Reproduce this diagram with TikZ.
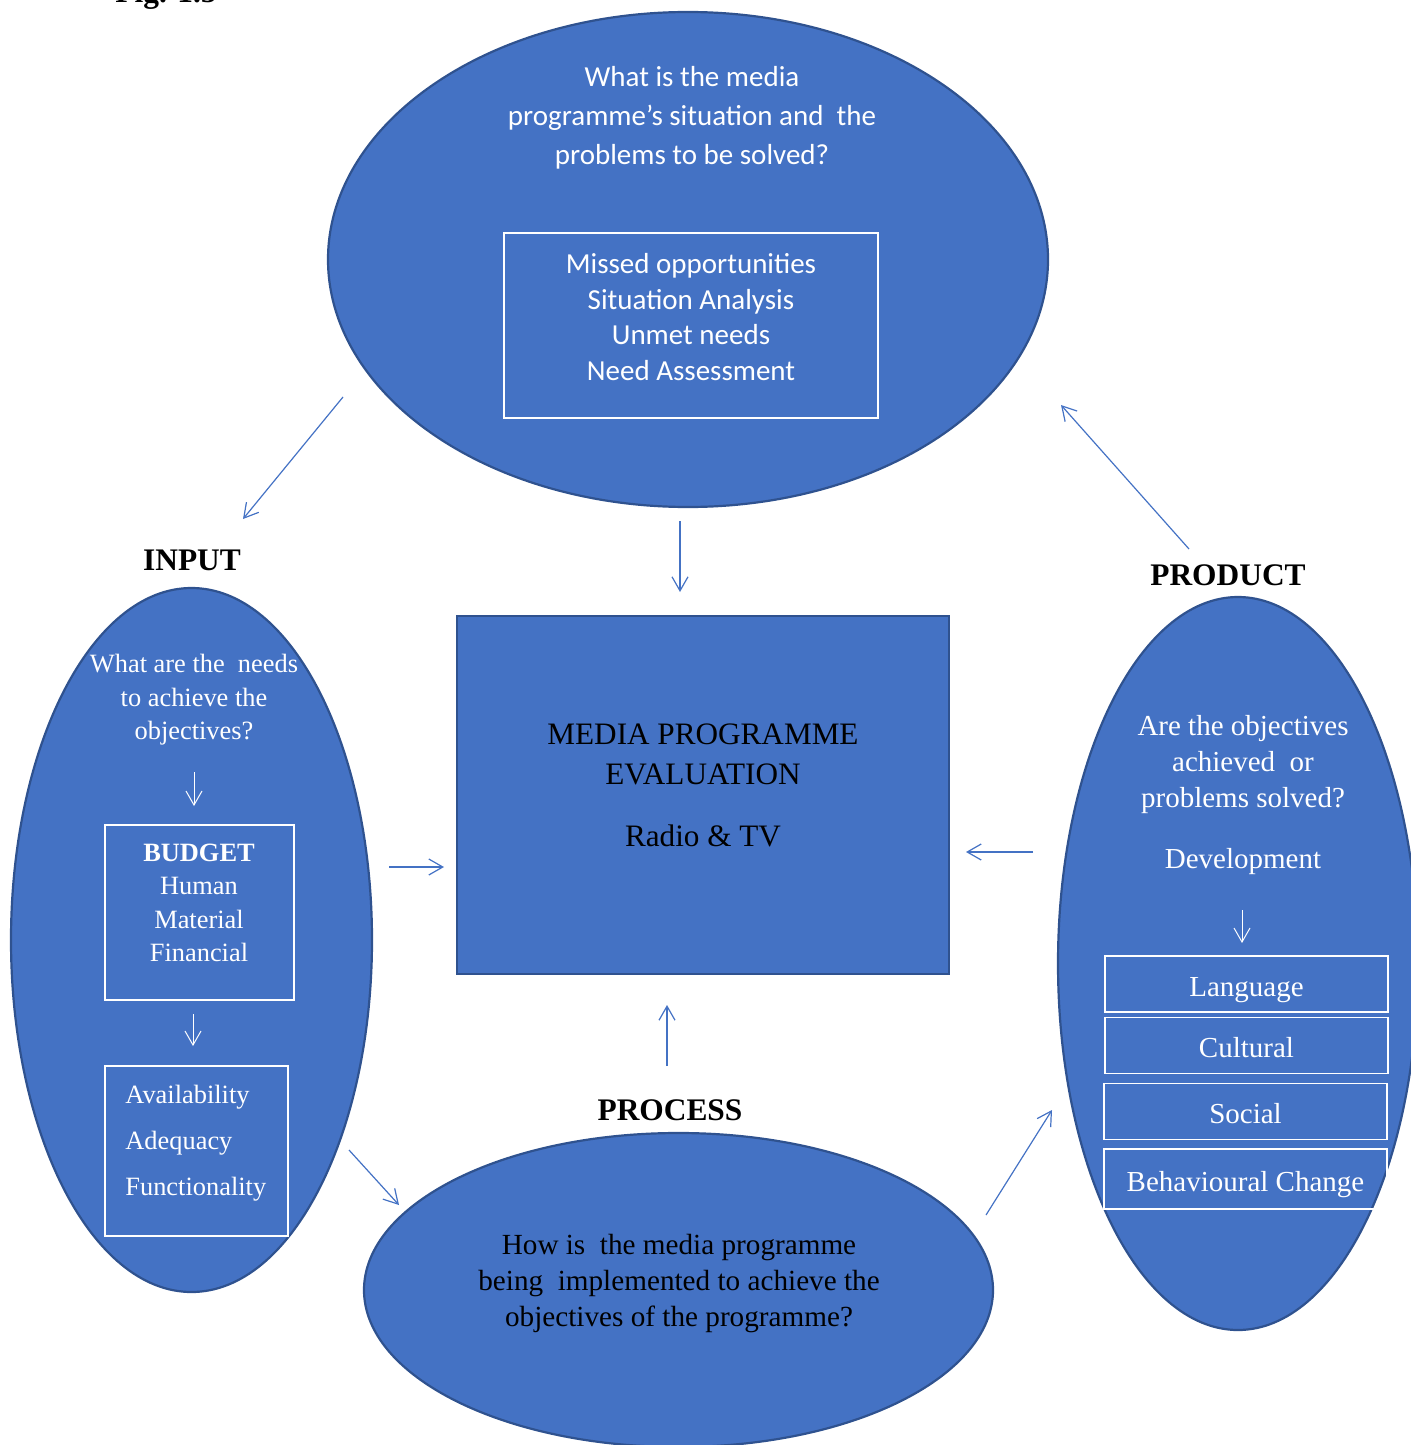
\documentclass[tikz,border=0pt]{standalone}
\usepackage{fontspec}
\setmainfont{Liberation Serif}
\newfontfamily\calibri{Carlito}
\usetikzlibrary{shapes.geometric,arrows.meta}
\definecolor{mblue}{HTML}{4472C4}
\definecolor{mdark}{HTML}{2F528F}

\begin{document}
\begin{tikzpicture}[x=0.5pt,y=-0.5pt,
    blob/.style={ellipse,draw=mdark,line width=1.1pt,fill=mblue,inner sep=0pt},
    wbox/.style={draw=white,line width=0.6pt,inner sep=0pt},
    wtext/.style={text=white,align=center,inner sep=0pt,font=\fontsize{13.2}{16.7}\selectfont},
    pbox/.style={wbox,minimum width=141.5pt,minimum height=28pt,text height=12pt,text depth=0pt,text=white,font=\fontsize{14.5}{17}\selectfont},
    stage/.style={inner sep=0pt,font=\bfseries\fontsize{15.7}{19}\selectfont},
    arr/.style={mblue,line width=0.6pt,-{Straight Barb[length=7pt,width=8pt]}},
    warr/.style={white,line width=0.5pt,-{Straight Barb[length=7pt,width=8pt]}}]
    \useasboundingbox (0,0) rectangle (1410,1445);

    % Ueberschrift (oben abgeschnitten)
    \node[stage,anchor=base west] (fig) at (115,3) {Fig. 1.5};

    % obere Ellipse:
    \node[blob,minimum width=360pt,minimum height=247.5pt] (sit) at (688,259.5) {};
    \node[text=white,align=center,inner sep=0pt,font=\calibri\fontsize{14.5}{19.5}\selectfont] (sitq) at (692,118) {What is the media\\programme’s situation and~ the\\problems to be solved?};
    \node[wbox,minimum width=187pt,minimum height=92.5pt] (sitbox) at (691,325.5) {};
    \node[text=white,align=center,inner sep=0pt,font=\calibri\fontsize{14.5}{17.8}\selectfont] (sittxt) at (691,317) {Missed opportunities\\Situation Analysis\\Unmet needs\\Need Assessment};

    % Mitte:
    \node[draw=mdark,line width=1pt,fill=mblue,minimum width=246pt,minimum height=179pt] (eval) at (703,795) {};
    \node[align=center,inner sep=0pt,font=\fontsize{15.6}{20}\selectfont] (evaltxt) at (703,785) {MEDIA PROGRAMME\\EVALUATION\\[11pt]Radio \& TV};

    % links: INPUT
    \node[stage] (input) at (192,560) {INPUT};
    \node[blob,minimum width=180.5pt,minimum height=352pt] (inp) at (191.5,940) {};
    \node[wtext] (inpq) at (194,700) {What are the~ needs\\to achieve the\\objectives?};
    \coordinate (i1) at (194,772);
    \coordinate (i2) at (194,806);
    \draw[warr] (i1) -- (i2);
    \node[wbox,minimum width=94.5pt,minimum height=87.5pt] (budget) at (199.5,912.5) {};
    \node[wtext] (budgettxt) at (199,903) {\textbf{BUDGET}\\Human\\Material\\Financial};
    \coordinate (i3) at (193,1014);
    \coordinate (i4) at (193,1046);
    \draw[warr] (i3) -- (i4);
    \node[wbox,minimum width=91.5pt,minimum height=85pt] (avail) at (196.5,1151) {};
    \node[text=white,align=left,anchor=west,inner sep=0pt,font=\fontsize{13.2}{23}\selectfont] (availtxt) at (125,1143) {Availability\\Adequacy\\Functionality};

    % rechts: PRODUCT
    \node[stage] (product) at (1228,575) {PRODUCT};
    \node[blob,minimum width=180pt,minimum height=366.5pt] (prod) at (1238,963.5) {};
    \node[wtext,font=\fontsize{14.5}{18}\selectfont] (prodq) at (1243,795) {Are the objectives\\achieved~ or\\problems solved?\\[12.5pt]Development};
    \coordinate (p1) at (1242,910);
    \coordinate (p2) at (1242,943);
    \draw[warr] (p1) -- (p2);
    \node[pbox] (lang) at (1246.5,984) {Language};
    \node[pbox] (cult) at (1246.5,1045.5) {Cultural};
    \node[pbox] (soc) at (1245.5,1111.5) {Social};
    \node[pbox,minimum height=30pt] (behav) at (1245.5,1179) {Behavioural Change};

    % unten: PROCESS
    \node[stage] (process) at (670,1110) {PROCESS};
    \node[blob,minimum width=314.5pt,minimum height=157pt] (proc) at (678.5,1290) {};
    \node[align=center,inner sep=0pt,font=\fontsize{14.6}{18}\selectfont] (proctxt) at (679,1284) {How is~ the media programme\\being~ implemented to achieve the\\objectives of the programme?};

    % Pfeile:
    \coordinate (a1) at (343,397);   \coordinate (b1) at (243,519);
    \coordinate (a2) at (680,521);   \coordinate (b2) at (680,592);
    \coordinate (a3) at (389,867);   \coordinate (b3) at (444,867);
    \coordinate (a4) at (1033,852);  \coordinate (b4) at (966,852);
    \coordinate (a5) at (667,1066);  \coordinate (b5) at (667,1005);
    \coordinate (a6) at (349,1150);  \coordinate (b6) at (399,1205);
    \coordinate (a7) at (986,1215);  \coordinate (b7) at (1052,1110);
    \coordinate (a8) at (1189,549);  \coordinate (b8) at (1061,405);
    \foreach \n in {1,...,8}
        \draw[arr] (a\n) -- (b\n);
\end{tikzpicture}
\end{document}
